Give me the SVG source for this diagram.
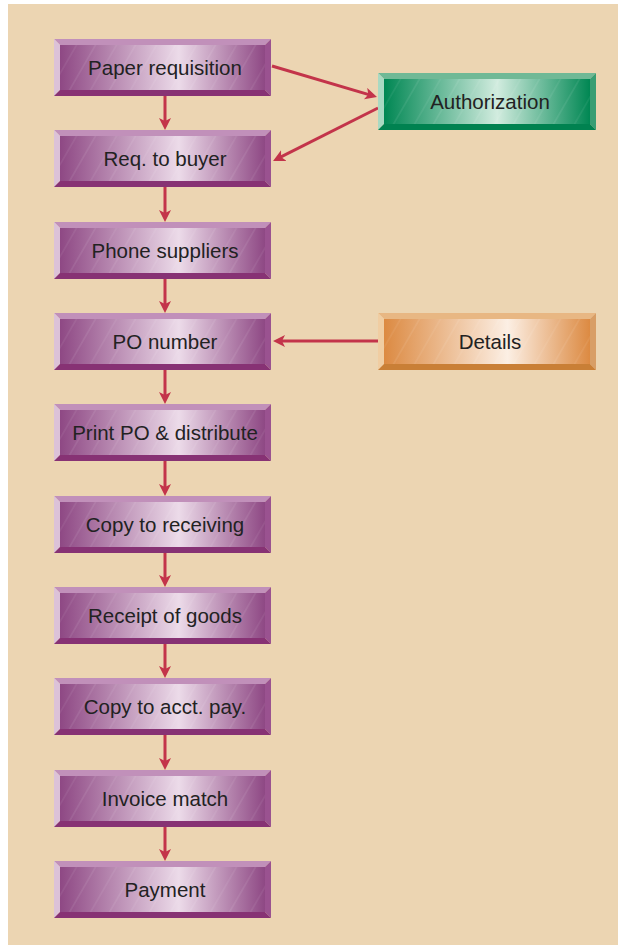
<svg xmlns="http://www.w3.org/2000/svg" xmlns:xlink="http://www.w3.org/1999/xlink" width="618" height="945" viewBox="0 0 618 945">
  <style>
    .lbl { font-family: "Liberation Sans", Arial, sans-serif; font-size: 20.5px; fill: #222; text-anchor: middle; }
    .conn { stroke: #c3344a; stroke-width: 3; fill: none; marker-end: url(#ah); }
  </style>
  <defs>
    <marker id="ah" viewBox="0 0 12 12" refX="7" refY="6" markerWidth="12" markerHeight="12" markerUnits="userSpaceOnUse" orient="auto">
      <path d="M0,0 L12,6 L0,12 L3,6 z" fill="#c3344a"/>
    </marker>
    <linearGradient id="gp" x1="0" y1="0" x2="1" y2="0">
      <stop offset="0" stop-color="#8e4884"/>
      <stop offset="0.58" stop-color="#ecdbe9"/>
      <stop offset="1" stop-color="#8e4884"/>
    </linearGradient>
    <linearGradient id="gg" x1="0" y1="0" x2="1" y2="0">
      <stop offset="0" stop-color="#008753"/>
      <stop offset="0.55" stop-color="#d2ecdf"/>
      <stop offset="1" stop-color="#008753"/>
    </linearGradient>
    <linearGradient id="go" x1="0" y1="0" x2="1" y2="0">
      <stop offset="0" stop-color="#dc8a42"/>
      <stop offset="0.6" stop-color="#fcefe4"/>
      <stop offset="1" stop-color="#dc8a42"/>
    </linearGradient>
    <pattern id="streak" width="40" height="60" patternUnits="userSpaceOnUse" patternTransform="skewX(-30)">
      <line x1="5" y1="0" x2="5" y2="60" stroke="#fff" stroke-opacity="0.22" stroke-width="0.6"/>
      <line x1="26" y1="0" x2="26" y2="60" stroke="#fff" stroke-opacity="0.18" stroke-width="0.6"/>
    </pattern>
    <g id="pbox">
      <rect x="6" y="6" width="205" height="45" fill="url(#gp)"/>
      <rect x="6" y="6" width="205" height="45" fill="url(#streak)"/>
      <polygon points="0,0 217,0 211,6 6,6" fill="#c190ba"/>
      <polygon points="0,0 6,6 6,51 0,57" fill="#dcc2d8"/>
      <polygon points="217,0 217,57 211,51 211,6" fill="#9a5290"/>
      <polygon points="0,57 6,51 211,51 217,57" fill="#873274"/>
    </g>
    <g id="gbox">
      <rect x="6" y="6" width="206" height="45" fill="url(#gg)"/>
      <rect x="6" y="6" width="206" height="45" fill="url(#streak)"/>
      <polygon points="0,0 218,0 212,6 6,6" fill="#70b996"/>
      <polygon points="0,0 6,6 6,51 0,57" fill="#a9d9c2"/>
      <polygon points="218,0 218,57 212,51 212,6" fill="#389e74"/>
      <polygon points="0,57 6,51 212,51 218,57" fill="#008250"/>
    </g>
    <g id="obox">
      <rect x="6" y="6" width="206" height="45" fill="url(#go)"/>
      <rect x="6" y="6" width="206" height="45" fill="url(#streak)"/>
      <polygon points="0,0 218,0 212,6 6,6" fill="#e8b783"/>
      <polygon points="0,0 6,6 6,51 0,57" fill="#f0cda2"/>
      <polygon points="218,0 218,57 212,51 212,6" fill="#d89e66"/>
      <polygon points="0,57 6,51 212,51 218,57" fill="#c97f36"/>
    </g>
  </defs>

  <rect x="0" y="0" width="618" height="945" fill="#ffffff"/>
  <rect x="8" y="4" width="610" height="941" fill="#ecd5b2"/>

  <g id="connectors">
    <line class="conn" x1="165" y1="96" x2="165" y2="125"/>
    <line class="conn" x1="165" y1="187" x2="165" y2="217"/>
    <line class="conn" x1="165" y1="279" x2="165" y2="308"/>
    <line class="conn" x1="165" y1="370" x2="165" y2="399"/>
    <line class="conn" x1="165" y1="461" x2="165" y2="491"/>
    <line class="conn" x1="165" y1="553" x2="165" y2="582"/>
    <line class="conn" x1="165" y1="644" x2="165" y2="673"/>
    <line class="conn" x1="165" y1="735" x2="165" y2="765"/>
    <line class="conn" x1="165" y1="827" x2="165" y2="856"/>
    <line class="conn" x1="272" y1="66" x2="372.2" y2="95.6"/>
    <line class="conn" x1="378" y1="108" x2="277.5" y2="158.7"/>
    <line class="conn" x1="378" y1="341" x2="278" y2="341"/>
  </g>

  <g id="n1" transform="translate(54,39)"><use xlink:href="#pbox"/><text class="lbl" x="111" y="35.5">Paper requisition</text></g>
  <g id="n2" transform="translate(54,130)"><use xlink:href="#pbox"/><text class="lbl" x="111" y="35.5">Req. to buyer</text></g>
  <g id="n3" transform="translate(54,222)"><use xlink:href="#pbox"/><text class="lbl" x="111" y="35.5">Phone suppliers</text></g>
  <g id="n4" transform="translate(54,313)"><use xlink:href="#pbox"/><text class="lbl" x="111" y="35.5">PO number</text></g>
  <g id="n5" transform="translate(54,404)"><use xlink:href="#pbox"/><text class="lbl" x="111" y="35.5">Print PO &amp; distribute</text></g>
  <g id="n6" transform="translate(54,496)"><use xlink:href="#pbox"/><text class="lbl" x="111" y="35.5">Copy to receiving</text></g>
  <g id="n7" transform="translate(54,587)"><use xlink:href="#pbox"/><text class="lbl" x="111" y="35.5">Receipt of goods</text></g>
  <g id="n8" transform="translate(54,678)"><use xlink:href="#pbox"/><text class="lbl" x="111" y="35.5">Copy to acct. pay.</text></g>
  <g id="n9" transform="translate(54,770)"><use xlink:href="#pbox"/><text class="lbl" x="111" y="35.5">Invoice match</text></g>
  <g id="n10" transform="translate(54,861)"><use xlink:href="#pbox"/><text class="lbl" x="111" y="35.5">Payment</text></g>
  <g id="auth" transform="translate(378,73)"><use xlink:href="#gbox"/><text class="lbl" x="112" y="35.5">Authorization</text></g>
  <g id="details" transform="translate(378,313)"><use xlink:href="#obox"/><text class="lbl" x="112" y="35.5">Details</text></g>
</svg>
